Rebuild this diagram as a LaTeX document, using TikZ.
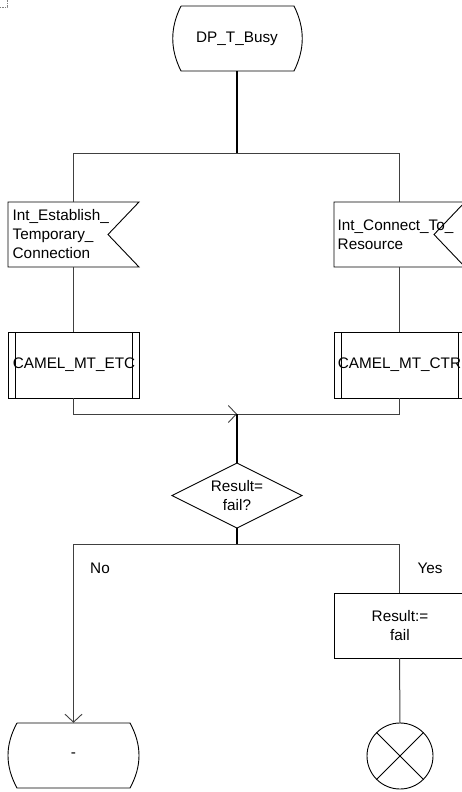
\documentclass[tikz,border=0pt]{standalone}
\usepackage{fontspec}
\setmainfont{Liberation Sans}
\usetikzlibrary{arrows.meta}
\begin{document}
\begin{tikzpicture}[x=1pt,y=-1pt,
  shp/.style={draw=black,line width=0.9pt},
  conn/.style={draw=black!75,line width=1pt},
  txt/.style={font=\fontsize{15.3}{19}\selectfont,inner sep=0pt},
  box/.style={inner sep=0pt,minimum width=131pt},
  openarrow/.style={-{Straight Barb[length=8pt,width=17pt,line width=0.9pt]}}
]
\useasboundingbox (0,0) rectangle (462,792);
\draw[gray,densely dotted,line width=0.7pt] (0,7) -- (7,7) -- (7,0);

% start state
\node[box,minimum height=65pt] (start) at (237,38.5) {};
\draw[shp] (181,6) -- (294,6) .. controls (305,28) and (305,49) .. (294,71) -- (181,71) .. controls (170,49) and (170,28) .. (181,6);
\node[txt] at (237,39) {DP\_T\_Busy};

% split coordinates
\coordinate (split1) at (237,153);
\coordinate (join) at (237,414);
\coordinate (split2) at (237,544);

% left input signal
\node[box,minimum height=65pt] (in1) at (73.5,234.5) {};
\draw[shp] (8,202) -- (139,202) -- (108,234.5) -- (139,267) -- (8,267) -- cycle;
\node[txt,anchor=west,align=left] at (12.5,234.5) {Int\_Establish\_\\Temporary\_\\Connection};

% right input signal
\node[box,minimum height=65pt] (in2) at (399.5,234.5) {};
\draw[shp] (334,202) -- (465,202) -- (434,234.5) -- (465,267) -- (334,267) -- cycle;
\node[txt,anchor=west,align=left] at (337.5,234.5) {Int\_Connect\_To\_\\Resource};

% procedure calls
\node[box,minimum height=66pt] (pc1) at (73.5,365) {};
\draw[shp] (8,332) rectangle (139,398);
\draw[shp] (15,332) -- (15,398) (132,332) -- (132,398);
\node[txt] at (74,365) {CAMEL\_MT\_ETC};

\node[box,minimum height=66pt] (pc2) at (399.5,365) {};
\draw[shp] (334,332) rectangle (465,398);
\draw[shp] (341,332) -- (341,398) (458,332) -- (458,398);
\node[txt] at (399.5,365) {CAMEL\_MT\_CTR};

% decision
\node[box,minimum width=130pt,minimum height=65pt] (dec) at (237,495.5) {};
\draw[shp] (237,463) -- (302,495.5) -- (237,528) -- (172,495.5) -- cycle;
\node[txt,align=center] at (237,495.5) {Result=\\fail?};

% task
\node[box,minimum height=65pt] (task) at (399.5,625.5) {};
\draw[shp] (334,593) rectangle (465,658);
\node[txt,align=center] at (400,625.5) {Result:=\\fail};

% end state
\node[box,minimum height=65pt] (endst) at (73.5,755.5) {};
\draw[shp] (17,723) -- (130,723) .. controls (142,745) and (142,766) .. (130,788) -- (17,788) .. controls (5,766) and (5,745) .. (17,723);
\node[txt] at (73.5,755) {-};

% stop
\node[circle,minimum size=66pt,inner sep=0pt] (stop) at (400,756) {};
\draw[shp] (stop.center) circle (33);
\draw[shp] (stop.north east) -- (stop.south west) (stop.north west) -- (stop.south east);

% labels
\node[txt] at (100,568) {No};
\node[txt] at (430,568) {Yes};

% connectors
\draw[conn,line width=1.2pt,black] (start.south) -- (split1);
\draw[conn] (in1.north |- split1) -- (in2.north |- split1);
\draw[conn] (in1.north |- split1) -- (in1.north);
\draw[conn] (in2.north |- split1) -- (in2.north);
\draw[conn] (in1.south) -- (pc1.north);
\draw[conn] (in2.south) -- (pc2.north);
\draw[conn] (pc1.south) -- (pc1.south |- join) -- (pc2.south |- join) -- (pc2.south);
\draw[conn,openarrow] (pc1.south |- join) -- (join);
\draw[conn,line width=1.2pt,black] (join) -- (dec.north);
\draw[conn,line width=1.2pt,black] (dec.south) -- (split2);
\draw[conn] (endst.north |- split2) -- (task.north |- split2);
\draw[conn,openarrow] (endst.north |- split2) -- (endst.north);
\draw[conn] (task.north |- split2) -- (task.north);
\draw[conn] (task.south) -- (stop.north);
\end{tikzpicture}
\end{document}
